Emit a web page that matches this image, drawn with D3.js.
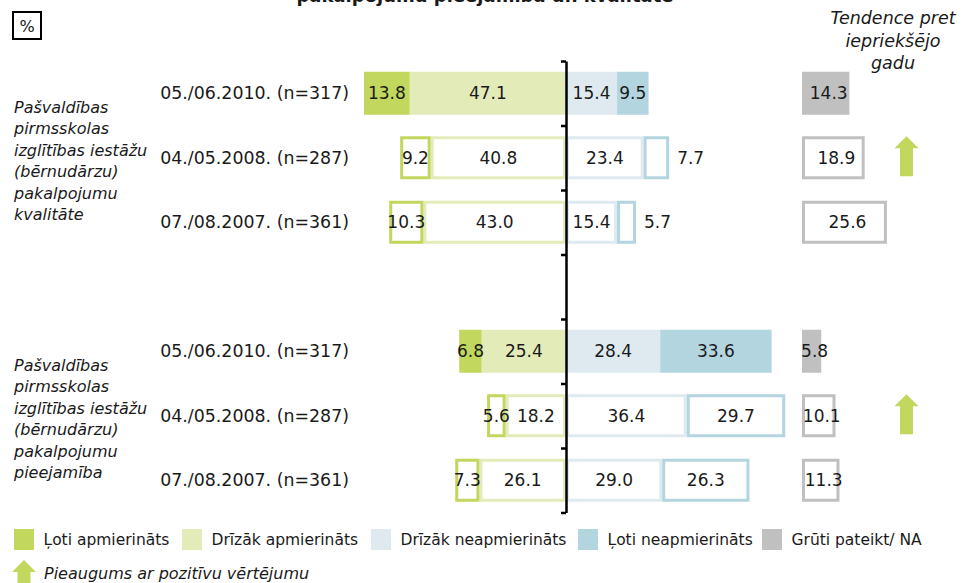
<!DOCTYPE html>
<html>
<head>
<meta charset="utf-8">
<script src="https://cdn.jsdelivr.net/npm/d3@7"></script>
<style>
  body { margin: 0; background: #fff; }
  text { font-family: "DejaVu Sans", sans-serif; fill: #1a1a1a; }
</style>
</head>
<body>
<svg id="chart"></svg>
<script>
// data
const groups = [
  ["Pašvaldības", "pirmsskolas", "izglītības iestāžu", "(bērnudārzu)", "pakalpojumu", "kvalitāte"],
  ["Pašvaldības", "pirmsskolas", "izglītības iestāžu", "(bērnudārzu)", "pakalpojumu", "pieejamība"]
];
const waves = ["05./06.2010. (n=317)", "04./05.2008. (n=287)", "07./08.2007. (n=361)"];
const veryPos   = [13.8, 9.2, 10.3, 6.8, 5.6, 7.3];
const ratherPos = [47.1, 40.8, 43.0, 25.4, 18.2, 26.1];
const ratherNeg = [15.4, 23.4, 15.4, 28.4, 36.4, 29.0];
const veryNeg   = [9.5, 7.7, 5.7, 33.6, 29.7, 26.3];
const hardToSay = [14.3, 18.9, 25.6, 5.8, 10.1, 11.3];
const trendUp   = [false, true, false, false, true, false];
const legendLabels = ["Ļoti apmierināts", "Drīzāk apmierināts", "Drīzāk neapmierināts", "Ļoti neapmierināts", "Grūti pateikt/ NA"];

const colors = ["#c2d75e", "#e3ecb9", "#deeaf0", "#b2d5e0", "#c0c0c0"];
const green = "#c2d75e";

const width = 967, height = 583;
const svg = d3.select("#chart").attr("width", width).attr("height", height);

// one row per wave per group, with an empty slot between the groups
const rows = veryPos.map((v, i) => ({
  i,
  slot: i < 3 ? i : i + 1,
  filled: i % 3 === 0,
  wave: waves[i % 3],
  segs: [
    { k: 0, from: -(veryPos[i] + ratherPos[i]), to: -ratherPos[i], v: veryPos[i] },
    { k: 1, from: -ratherPos[i], to: 0, v: ratherPos[i] },
    { k: 2, from: 0, to: ratherNeg[i], v: ratherNeg[i] },
    { k: 3, from: ratherNeg[i], to: ratherNeg[i] + veryNeg[i], v: veryNeg[i] }
  ],
  na: hardToSay[i],
  up: trendUp[i]
}));

const x = d3.scaleLinear().domain([-60, 60]).range([367, 765]);
const xNa = d3.scaleLinear().domain([0, 30]).range([802, 901.5]);
const y = d3.scaleBand().domain(d3.range(7)).range([61, 512.5])
  .paddingInner(0.333).paddingOuter(0.1667);
const bh = y.bandwidth();

// title (cut off at the top in the original as well)
svg.append("text")
  .attr("x", 485).attr("y", 2)
  .attr("text-anchor", "middle")
  .style("font-weight", "bold").style("font-size", "18px")
  .text("pakalpojumu pieejamība un kvalitāte");

// % box
svg.append("rect").attr("x", 13).attr("y", 12).attr("width", 28).attr("height", 27)
  .attr("fill", "none").attr("stroke", "#000").attr("stroke-width", 2);
svg.append("text").attr("x", 27).attr("y", 32).attr("text-anchor", "middle")
  .style("font-size", "16px").text("%");

// trend header
svg.append("text").attr("text-anchor", "middle")
  .style("font-style", "italic").style("font-size", "17.5px")
  .selectAll("tspan").data(["Tendence pret", "iepriekšējo", "gadu"]).join("tspan")
  .attr("x", 893).attr("y", (d, i) => 24 + i * 22.5).text(d => d);

// group labels
groups.forEach((lines, g) => {
  const mid = y(g * 4 + 1) + bh / 2;
  svg.append("text").style("font-style", "italic").style("font-size", "16px")
    .selectAll("tspan").data(lines).join("tspan")
    .attr("x", 14).attr("y", (d, i) => mid - 51 + i * 21.5 + 6).text(d => d);
});

// wave labels
svg.selectAll(".wave").data(rows).join("text")
  .attr("class", "wave")
  .attr("x", 349).attr("y", d => y(d.slot) + bh / 2 + 6)
  .attr("text-anchor", "end").style("font-size", "17.4px")
  .text(d => d.wave);

const rowG = svg.selectAll(".row").data(rows).join("g")
  .attr("class", "row")
  .attr("transform", d => `translate(0,${y(d.slot)})`);

// filled bars (latest wave)
rowG.filter(d => d.filled).selectAll("rect.seg").data(d => d.segs).join("rect")
  .attr("class", "seg")
  .attr("x", s => x(s.from)).attr("width", s => x(s.to) - x(s.from))
  .attr("y", 0).attr("height", bh)
  .attr("fill", s => colors[s.k]);

// outlined bars (earlier waves): light boxes first, strong boxes on top
rowG.filter(d => !d.filled).each(function (d) {
  const g = d3.select(this);
  const order = [1, 2, 0, 3];
  order.forEach(k => {
    const s = d.segs[k];
    const sw = 3;
    g.append("rect")
      .attr("x", x(s.from) + sw / 2).attr("width", Math.max(0, x(s.to) - x(s.from) - sw))
      .attr("y", sw / 2).attr("height", bh - sw)
      .attr("fill", "none").attr("stroke", colors[k]).attr("stroke-width", sw);
  });
});

// segment values
rowG.selectAll("text.val").data(d => d.segs).join("text")
  .attr("class", "val")
  .attr("x", s => (s.k === 3 && s.v < 8) ? x(s.to) + 8 : (x(s.from) + x(s.to)) / 2)
  .attr("text-anchor", s => (s.k === 3 && s.v < 8) ? "start" : "middle")
  .attr("y", bh / 2 + 6).style("font-size", "17px")
  .text(s => s.v.toFixed(1));

// hard to say
rowG.append("rect")
  .attr("x", d => d.filled ? xNa(0) : xNa(0) + 1.5)
  .attr("width", d => d.filled ? xNa(d.na) - xNa(0) : xNa(d.na) - xNa(0) - 3)
  .attr("y", d => d.filled ? 0 : 1.5)
  .attr("height", d => d.filled ? bh : bh - 3)
  .attr("fill", d => d.filled ? colors[4] : "none")
  .attr("stroke", d => d.filled ? "none" : colors[4])
  .attr("stroke-width", 3);
rowG.append("text")
  .attr("x", d => (xNa(0) + xNa(d.na)) / 2 + 3)
  .attr("y", bh / 2 + 6).attr("text-anchor", "middle").style("font-size", "17px")
  .text(d => d.na.toFixed(1));

// trend arrows
const arrow = (cx, top) => {
  const p = d3.path();
  p.moveTo(cx, top);
  p.lineTo(cx + 12, top + 12);
  p.lineTo(cx + 6.5, top + 12);
  p.lineTo(cx + 6.5, top + 40);
  p.lineTo(cx - 6.5, top + 40);
  p.lineTo(cx - 6.5, top + 12);
  p.lineTo(cx - 12, top + 12);
  p.closePath();
  return p.toString();
};
rowG.filter(d => d.up).append("path")
  .attr("d", arrow(906.5, 0)).attr("fill", green);

// centre axis
const yAxisScale = d3.scaleLinear().domain([0, 7]).range([61, 512.5]);
svg.append("g")
  .attr("transform", `translate(${x(0)},0)`)
  .call(d3.axisLeft(yAxisScale).tickValues(d3.range(8)).tickFormat("").tickSize(5).tickSizeOuter(0))
  .call(g => g.selectAll("line, path").attr("stroke", "#000").attr("stroke-width", 2.5));

// legend
const legendX = [14, 182, 371, 578, 762];
const lg = svg.selectAll(".leg").data(legendLabels).join("g")
  .attr("class", "leg")
  .attr("transform", (d, i) => `translate(${legendX[i]},529)`);
lg.append("rect").attr("width", 20).attr("height", 21).attr("fill", (d, i) => colors[i]);
lg.append("text").attr("x", 29.5).attr("y", 16).style("font-size", "15.5px").text(d => d);

svg.append("path").attr("d", arrow(24, 560)).attr("fill", green);
svg.append("text").attr("x", 44).attr("y", 579)
  .style("font-style", "italic").style("font-size", "16px")
  .text("Pieaugums ar pozitīvu vērtējumu");
</script>
</body>
</html>
